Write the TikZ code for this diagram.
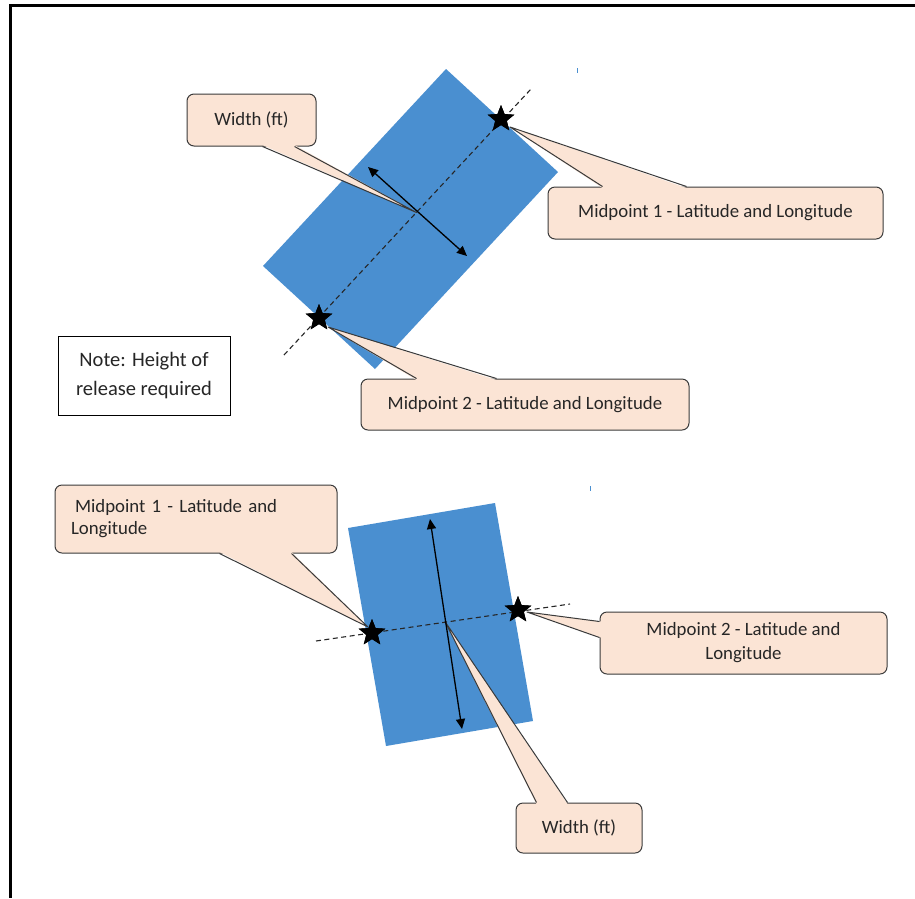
\documentclass[tikz,border=0pt]{standalone}
\usepackage{fontspec}
\setmainfont{Carlito}
\usetikzlibrary{shapes.geometric,calc,arrows.meta}
\definecolor{rectblue}{HTML}{4A8FD0}
\definecolor{peach}{HTML}{FBE4D5}
\definecolor{edgegray}{HTML}{3A3A3A}
\definecolor{txt}{HTML}{262626}
\tikzset{
  callout/.style={draw=edgegray, fill=peach, rounded corners=7pt, line width=1pt,
    inner sep=0pt, font=\fontsize{18.8}{22}\selectfont, text=txt, align=center},
  starmark/.style={star, star points=5, star point ratio=2.3, fill=black, draw=none,
    minimum size=28pt, inner sep=0pt},
  ptrfill/.style={fill=peach},
  ptredge/.style={draw=edgegray, line width=1pt, line join=round},
  dashline/.style={dash pattern=on 5pt off 3.5pt, line width=1.1pt, draw=black!85},
  widtharrow/.style={line width=1.3pt, {Triangle[length=10pt,width=9pt]}-{Triangle[length=10pt,width=9pt]}},
  notebox/.style={draw=black, line width=1pt, fill=white, inner sep=0pt, align=center,
    font=\fontsize{20.5}{29}\selectfont, text=txt},
}
\begin{document}
\begin{tikzpicture}[x=1pt,y=-1pt]
\useasboundingbox (0,0) rectangle (915,898);
\fill[white] (0,0) rectangle (915,898);
% frame
\draw[line width=3pt] (915,5) -- (10,5) -- (10,898);
% tiny blue marks
\draw[rectblue, line width=1pt] (577,68) -- (577,73);
\draw[rectblue, line width=1pt] (590,486) -- (590,491);

% ---------- top diagram ----------
\fill[rectblue] (446,69) -- (558,172) -- (375,369) -- (263,266) -- cycle;
\coordinate (d1a) at (284,355);
\coordinate (d1b) at (531,89);
\draw[dashline] (d1a) -- (d1b);
\coordinate (wa1) at (368,167);
\coordinate (wb1) at (467,256);
\coordinate (c1) at (416.5,212.5);

\node[starmark] (s1) at (501,119) {};
\node[starmark] (s2) at (319,318) {};

\node[callout, minimum width=129pt, minimum height=52pt] (w1) at (251.5,120) {Width (ft)};
\node[callout, minimum width=335pt, minimum height=52pt] (m1) at (715.5,213) {Midpoint 1 - Latitude and Longitude};
\node[callout, minimum width=328pt, minimum height=51pt] (m2) at (525,404.5) {Midpoint 2 - Latitude and Longitude};
\node[notebox, minimum width=172pt, minimum height=79pt] (note) at (144,375.5) {Note: Height of\\release required};

% pointers top
\fill[ptrfill] ($(w1.south west)+(76,-1.5)$) -- (c1) -- ($(w1.south west)+(108,-1.5)$) -- cycle;
\draw[ptredge] ($(w1.south west)+(76,0)$) -- (c1) -- ($(w1.south west)+(108,0)$);
\coordinate (t1) at ($(s1)+(9,8)$);
\fill[ptrfill] ($(m1.north west)+(55,1.5)$) -- (t1) -- ($(m1.north west)+(139,1.5)$) -- cycle;
\draw[ptredge] ($(m1.north west)+(55,0)$) -- (t1) -- ($(m1.north west)+(139,0)$);
\coordinate (t2) at ($(s2)+(9,9)$);
\fill[ptrfill] ($(m2.north west)+(56,1.5)$) -- (t2) -- ($(m2.north west)+(136,1.5)$) -- cycle;
\draw[ptredge] ($(m2.north west)+(56,0)$) -- (t2) -- ($(m2.north west)+(136,0)$);

\draw[widtharrow] (wa1) -- (wb1);
\node[starmark] at (s1) {};
\node[starmark] at (s2) {};

% ---------- bottom diagram ----------
\fill[rectblue] (348,528) -- (495,503) -- (533,721) -- (386,746) -- cycle;
\coordinate (d2a) at (316,641);
\coordinate (d2b) at (570,604);
\draw[dashline] (d2a) -- (d2b);
\coordinate (wa2) at (430,519);
\coordinate (wb2) at (462,729);
\coordinate (c2) at (445,621.5);

\node[starmark] (s3) at (372,633) {};
\node[starmark] (s4) at (518,610) {};

\node[callout, minimum width=282pt, minimum height=68pt, text width=250pt, inner xsep=16pt, align=left] (m3) at (196,519) {\hspace{4pt}Midpoint 1 - Latitude and\\Longitude};
\node[callout, minimum width=287pt, minimum height=62pt, font=\fontsize{18.8}{24}\selectfont] (m4) at (743.5,643) {Midpoint 2 - Latitude and\\Longitude};
\node[callout, minimum width=126pt, minimum height=50pt] (w2) at (579,828) {Width (ft)};

\coordinate (t3) at ($(s3)+(-4,-6)$);
\fill[ptrfill] ($(m3.south west)+(165,-1.5)$) -- (t3) -- ($(m3.south west)+(237,-1.5)$) -- cycle;
\draw[ptredge] ($(m3.south west)+(165,0)$) -- (t3) -- ($(m3.south west)+(237,0)$);
\coordinate (t4) at ($(s4)+(9,2)$);
\fill[ptrfill] ($(m4.north west)+(1.5,10)$) -- (t4) -- ($(m4.north west)+(1.5,26)$) -- cycle;
\draw[ptredge] ($(m4.north west)+(0,10)$) -- (t4) -- ($(m4.north west)+(0,26)$);
\fill[ptrfill] ($(w2.north west)+(21,1.5)$) -- (c2) -- ($(w2.north west)+(52,1.5)$) -- cycle;
\draw[ptredge] ($(w2.north west)+(21,0)$) -- (c2) -- ($(w2.north west)+(52,0)$);

\draw[widtharrow] (wa2) -- (wb2);
\node[starmark] at (s3) {};
\node[starmark] at (s4) {};
\end{tikzpicture}
\end{document}
